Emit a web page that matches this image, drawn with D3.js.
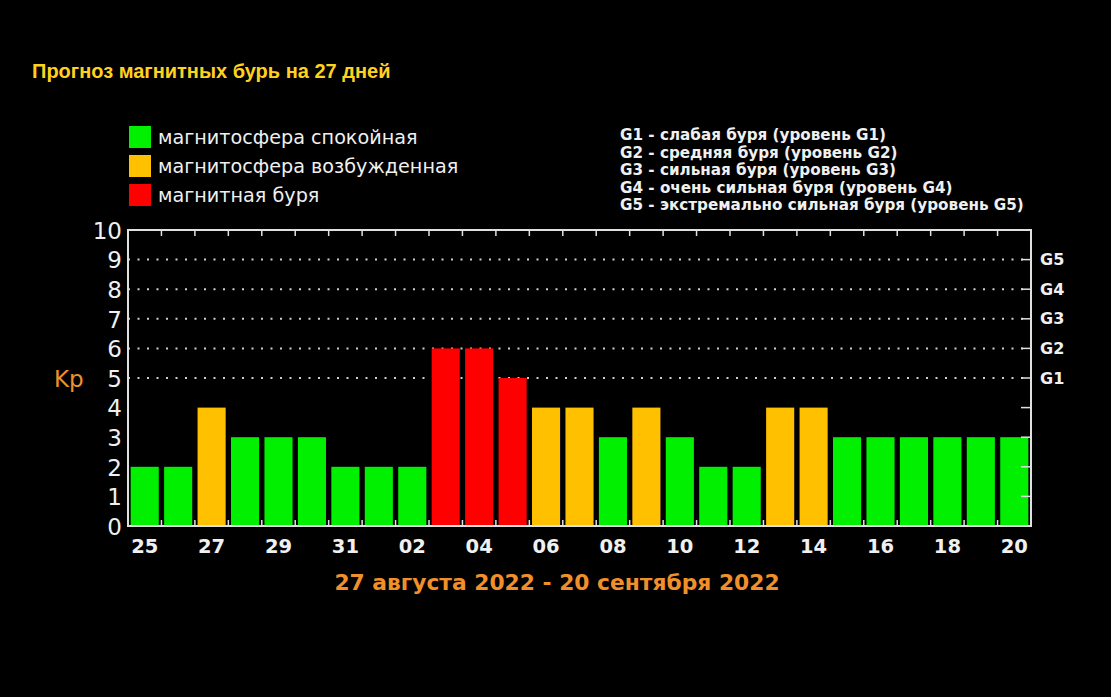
<!DOCTYPE html>
<html><head><meta charset="utf-8">
<script src="https://cdn.jsdelivr.net/npm/d3@7"></script>
<style>
html,body{margin:0;padding:0;background:#000;}
svg{display:block;}
</style></head>
<body>
<svg id="chart" width="1111" height="697"></svg>
<script>
const days = ["25","26","27","28","29","30","31","01","02","03","04","05","06","07","08","09","10","11","12","13","14","15","16","17","18","19","20"];
const kpValues = [2,2,4,3,3,3,2,2,2,6,6,5,4,4,3,4,3,2,2,4,4,3,3,3,3,3,3];
const yTicks = [0,1,2,3,4,5,6,7,8,9,10];
const gLevels = ["G1","G2","G3","G4","G5"];
const gLevelKp = [5,6,7,8,9];
const legendLabels = ["магнитосфера спокойная","магнитосфера возбужденная","магнитная буря"];
const legendColors = ["#00f000","#ffc000","#ff0000"];
const gDescriptions = [
  "G1 - слабая буря (уровень G1)",
  "G2 - средняя буря (уровень G2)",
  "G3 - сильная буря (уровень G3)",
  "G4 - очень сильная буря (уровень G4)",
  "G5 - экстремально сильная буря (уровень G5)"
];
const titleText = "Прогноз магнитных бурь на 27 дней";
const periodText = "27 августа 2022 - 20 сентября 2022";

const svg = d3.select("#chart");
const L = 128, R = 1031, T = 230, B = 526;

const x = d3.scaleBand().domain(d3.range(days.length)).range([L, R]).paddingInner(0.16).paddingOuter(0.08);
const xb = d3.scaleLinear().domain([0, days.length]).range([L, R]);
const y = d3.scaleLinear().domain([0, 10]).range([B, T]);
const colorFor = v => v >= 5 ? legendColors[2] : (v >= 4 ? legendColors[1] : legendColors[0]);

// title
svg.append("text").attr("x", 32).attr("y", 78).text(titleText)
  .attr("fill", "#ffd21e").attr("font-family", "Liberation Sans, Arial, sans-serif")
  .attr("font-weight", "bold").attr("font-size", 20);

// left legend
const lg = svg.append("g");
legendLabels.forEach((t, i) => {
  const cy = 137 + i * 29;
  lg.append("rect").attr("x", 129).attr("y", cy - 11).attr("width", 22).attr("height", 22).attr("fill", legendColors[i]);
  lg.append("text").attr("x", 158).attr("y", cy + 7).text(t).attr("fill", "#f0f0f0")
    .attr("font-family", "DejaVu Sans, Verdana, sans-serif").attr("font-size", 19.2);
});

// right legend
gDescriptions.forEach((t, i) => {
  svg.append("text").attr("x", 620).attr("y", 140 + i * 17.6).text(t).attr("fill", "#f0f0f0")
    .attr("font-family", "DejaVu Sans, Verdana, sans-serif").attr("font-weight", "bold").attr("font-size", 15.2);
});

// gridlines
svg.append("g").selectAll("line").data(gLevelKp).join("line")
  .attr("x1", L).attr("x2", R).attr("y1", d => y(d)).attr("y2", d => y(d))
  .attr("stroke", "#d0d0d0").attr("stroke-width", 2).attr("stroke-dasharray", "2,7.5");

// bars
svg.append("g").selectAll("rect").data(kpValues).join("rect")
  .attr("x", (d, i) => x(i)).attr("width", x.bandwidth())
  .attr("y", d => y(d)).attr("height", d => y(0) - y(d))
  .attr("fill", d => colorFor(d));

// frame
svg.append("rect").attr("x", L).attr("y", T).attr("width", R - L).attr("height", B - T)
  .attr("fill", "none").attr("stroke", "#e0e0e0").attr("stroke-width", 2);

// boundary ticks bottom & top
const bnd = d3.range(1, days.length);
svg.append("g").selectAll("line").data(bnd).join("line")
  .attr("x1", d => xb(d)).attr("x2", d => xb(d)).attr("y1", B).attr("y2", B - 6)
  .attr("stroke", "#e0e0e0").attr("stroke-width", 1.5);
svg.append("g").selectAll("line").data(bnd).join("line")
  .attr("x1", d => xb(d)).attr("x2", d => xb(d)).attr("y1", T).attr("y2", T + 6)
  .attr("stroke", "#e0e0e0").attr("stroke-width", 1.5);

// right axis ticks
svg.append("g").selectAll("line").data(yTicks.slice(1, -1)).join("line")
  .attr("x1", R).attr("x2", R - 10).attr("y1", d => y(d)).attr("y2", d => y(d))
  .attr("stroke", "#e0e0e0").attr("stroke-width", 1.5);

// left axis labels
const yAxis = d3.axisLeft(y).tickValues(yTicks).tickSize(0).tickPadding(6);
const ya = svg.append("g").attr("transform", `translate(${L},0)`).call(yAxis);
ya.select(".domain").remove();
ya.selectAll("text").attr("fill", "#f0f0f0").attr("font-family", "DejaVu Sans, Verdana, sans-serif")
  .attr("font-size", 23).attr("dy", "0.36em");

// G labels right
const gScale = d3.axisRight(y).tickValues(gLevelKp).tickFormat((d, i) => gLevels[i]).tickSize(0).tickPadding(9);
const ga = svg.append("g").attr("transform", `translate(${R},0)`).call(gScale);
ga.select(".domain").remove();
ga.selectAll("text").attr("fill", "#f0f0f0").attr("font-family", "DejaVu Sans, Verdana, sans-serif")
  .attr("font-weight", "bold").attr("font-size", 16);

// bottom day labels
const xAxis = d3.axisBottom(x).tickValues(d3.range(0, days.length, 2)).tickFormat(i => days[i]).tickSize(0).tickPadding(13);
const xa = svg.append("g").attr("transform", `translate(0,${B})`).call(xAxis);
xa.select(".domain").remove();
xa.selectAll("text").attr("fill", "#f0f0f0").attr("font-family", "DejaVu Sans, Verdana, sans-serif")
  .attr("font-weight", "bold").attr("font-size", 19.5);

// Kp label
svg.append("text").attr("x", 54).attr("y", 387).text("Kp").attr("fill", "#f0902a")
  .attr("font-family", "DejaVu Sans, Verdana, sans-serif").attr("font-size", 23);

// period label
svg.append("text").attr("x", 557).attr("y", 590).attr("text-anchor", "middle").text(periodText)
  .attr("fill", "#f0902a").attr("font-family", "DejaVu Sans, Verdana, sans-serif")
  .attr("font-weight", "bold").attr("font-size", 21.8);
</script>
</body></html>
